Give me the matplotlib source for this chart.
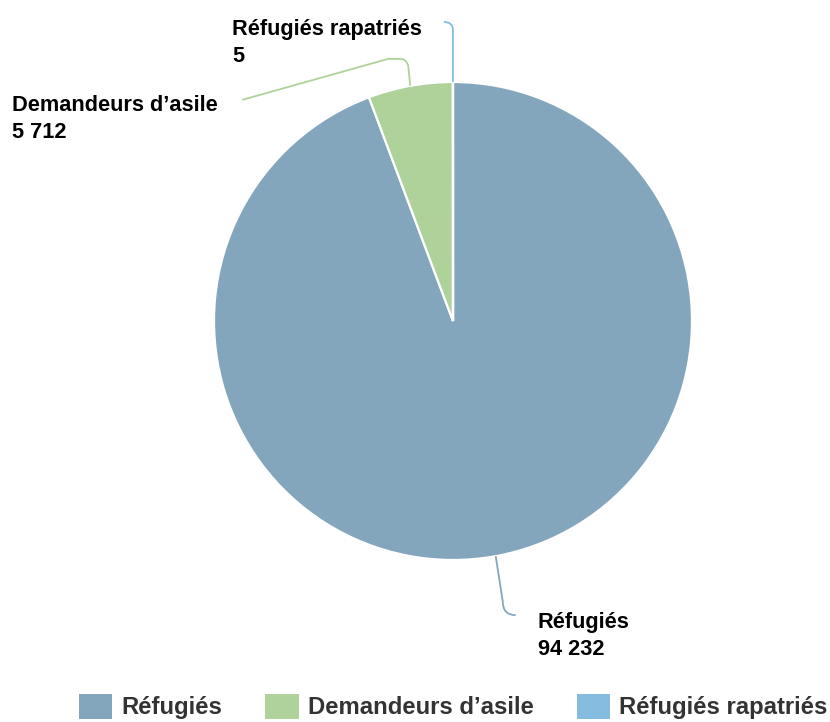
import numpy as np
import matplotlib
matplotlib.use("Agg")
import matplotlib.pyplot as plt
from matplotlib.path import Path
from matplotlib.patches import PathPatch, Patch

categories = ["Réfugiés", "Demandeurs d’asile", "Réfugiés rapatriés"]
values = [94232, 5712, 5]
colors = ["#84a6bd", "#afd29a", "#84bde0"]

W, H = 830, 722
fig = plt.figure(figsize=(W / 100, H / 100), dpi=100)
ax = fig.add_axes([0, 0, 1, 1])

cx, cy, R = 453, H - 321, 239
wedges, _ = ax.pie(values, colors=colors, startangle=90, counterclock=False,
                   center=(cx, cy), radius=R, frame=True,
                   wedgeprops=dict(edgecolor="white", linewidth=1.6))
ax.set_xlim(0, W)
ax.set_ylim(0, H)
ax.set_aspect("equal")
ax.axis("off")

def fmt(v):
    return f"{v:,}".replace(",", " ")

font = dict(family=["Liberation Sans", "DejaVu Sans"], fontweight="bold",
            fontsize=15.7, color="black")

# leader line shapes relative to anchor on the wedge edge (dx, dy in pixels, y up)
shapes = {
    0: dict(pts=[(0, 0), (7, -45), (20, -59)], kind="curve",
            text=(42, -56), ha="left"),
    1: dict(pts=[(0, 0), (-2, 20), (-4, 27), (-10, 27), (-22, 27), (-168, -14)],
            kind="bend", text=(-192, -9), ha="right"),
    2: dict(pts=[(0, 0), (0, 52), (-9, 60)], kind="curve",
            text=(-31, 63), ha="right"),
}

for i, w in enumerate(wedges):
    mid = np.deg2rad((w.theta1 + w.theta2) / 2)
    ax_, ay_ = cx + R * np.cos(mid), cy + R * np.sin(mid)
    s = shapes[i]
    p = [(ax_ + dx, ay_ + dy) for dx, dy in s["pts"]]
    if s["kind"] == "curve":
        verts = [p[0], p[1], (p[1][0], p[2][1]), p[2]]
        codes = [Path.MOVETO, Path.LINETO, Path.CURVE3, Path.CURVE3]
    else:
        verts = p
        codes = [Path.MOVETO, Path.LINETO, Path.CURVE3, Path.CURVE3, Path.LINETO, Path.LINETO]
    ax.add_patch(PathPatch(Path(verts, codes), fill=False, edgecolor=colors[i], linewidth=1.3))
    tx, ty = ax_ + s["text"][0], ay_ + s["text"][1]
    ax.text(tx, ty, f"{categories[i]}\n{fmt(values[i])}", ha=s["ha"],
            va="top", multialignment="left", linespacing=1.38, **font)

handles = [Patch(facecolor=c, edgecolor="none") for c in colors]
leg = fig.legend(handles, categories, loc="lower center", bbox_to_anchor=(0.546, -0.026),
                 ncol=3, frameon=False, handlelength=1.4, handleheight=1.25,
                 handletextpad=0.38, columnspacing=1.8,
                 prop=dict(family=["Liberation Sans", "DejaVu Sans"], weight="bold", size=17.2))
for t in leg.get_texts():
    t.set_color("#333333")

fig.savefig("out.png", dpi=100)
